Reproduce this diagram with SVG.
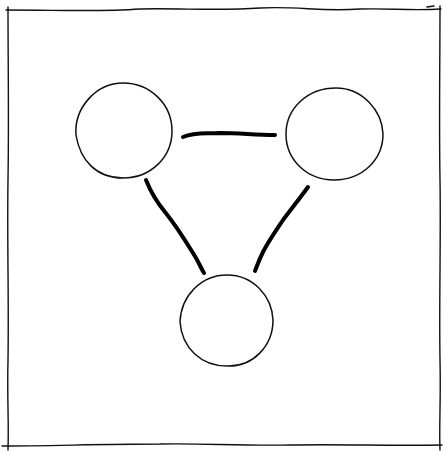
<svg xmlns="http://www.w3.org/2000/svg" width="444" height="451" viewBox="0 0 444 451">
<style>
.frame{fill:none;stroke:#111;stroke-width:1.4;stroke-linecap:round}
.node{fill:#fff;stroke:#111;stroke-width:1.5}
.edge{fill:none;stroke:#000;stroke-width:4;stroke-linecap:round;stroke-linejoin:round}
</style>
<rect width="444" height="451" fill="#fff"/>
<g id="frame">
<path class="frame" d="M6,10 C60,10 100,12 140,9 C180,8 220,11 260,8 C300,6 320,12 360,9 C390,8 410,11 441,9 M427,7 L434,6"/>
<path class="frame" d="M8,7 C8,60 9,120 8,180 C7,240 9,300 8,360 C7,400 9,420 8,450"/>
<path class="frame" d="M440,6 C440,60 439,120 440,180 C441,240 439,300 440,360 C441,400 439,425 440,450"/>
<path class="frame" d="M2,446 C50,446 100,444 160,444 C200,443 240,446 290,445 C340,444 390,446 442,445"/>
</g>
<g id="edges">
<path class="edge" d="M183,137 C195,132 205,134 220,133 C240,133 255,135 275,135"/>
<path class="edge" d="M146,180 C150,190 155,200 165,212 C178,228 188,245 196,258 C200,265 202,270 204,273"/>
<path class="edge" d="M308,187 C300,198 292,208 283,220 C275,232 268,242 263,252 C259,260 257,266 255,271"/>
</g>
<g id="node-a">
<path class="node" d="M123,83 C150,83 172,104 172,131 C172,158 150,178 123,178 C96,178 80,160 76,135 C74,108 96,83 123,83 Z"/>
</g>
<g id="node-b">
<path class="node" d="M336,88 C362,88 382,110 383,134 C383,160 362,180 334,180 C307,180 286,160 286,134 C286,108 308,88 336,88 Z"/>
</g>
<g id="node-c">
<path class="node" d="M227,275 C253,275 272,296 273,320 C273,346 253,367 227,366 C201,366 182,348 180,322 C181,296 201,275 227,275 Z"/>
</g>
</svg>
